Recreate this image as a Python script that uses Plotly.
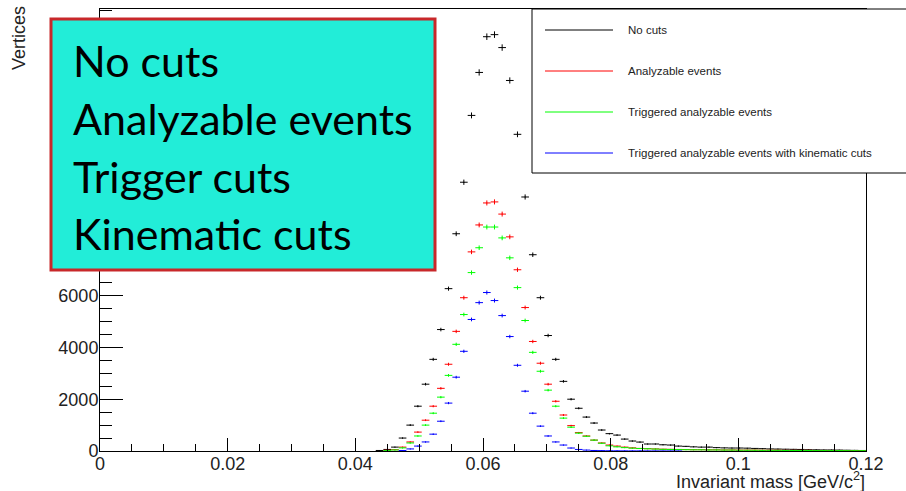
import numpy as np
import plotly.graph_objects as go

# Histogram binning: 100 bins from 0 to 0.12 GeV/c^2
bin_low = 0.0
bin_width = 0.0012
n_bins = 100

series_names = ["No cuts", "Analyzable events", "Triggered analyzable events",
                "Triggered analyzable events with kinematic cuts"]
series_colors = ["#000000", "#FF0000", "#00FF00", "#0000FF"]

no_cuts = [0] * 36 + [
    20, 60, 150, 500, 1000, 1730, 2580, 3540, 4690, 6270,
    8390, 10380, 12960, 14620, 16000, 16080, 15580, 14310, 12230, 9810,
    7580, 5920, 4460, 3540, 2690, 2000, 1650, 1310, 1080, 810,
    670, 615, 460, 385, 345, 270, 270, 240, 230, 190,
    180, 160, 150, 150, 130, 120, 115, 115, 110, 100,
    90, 80, 75, 70, 65, 60, 50, 45, 40, 40,
    35, 30, 25, 20]

analyzable = [0] * 37 + [
    30, 50, 150, 350, 730, 1190, 1730, 2420, 3350, 4620,
    5920, 7690, 8730, 9580, 9620, 9150, 8270, 7000, 5540, 4230,
    3390, 2580, 1920, 1390, 980, 710, 580, 420, 310, 230,
    190, 150, 120, 100, 90, 80, 70, 65, 60, 55,
    50, 50, 45, 45, 40, 40, 35, 35, 35, 30,
    30, 30, 25, 25, 25, 25, 20, 20, 20, 20,
    15, 15, 15]

triggered = [0] * 37 + [
    15, 40, 120, 310, 580, 1000, 1460, 2080, 2920, 4120,
    5270, 6890, 7850, 8650, 8650, 8230, 7460, 6310, 5040, 3810,
    3080, 2350, 1730, 1270, 920, 690, 570, 420, 300, 200,
    160, 130, 110, 95, 85, 75, 65, 60, 55, 50,
    45, 45, 40, 40, 35, 35, 30, 30, 30, 25,
    25, 25, 20, 20, 20, 20, 15, 15, 15, 15,
    12, 12, 12]

kinematic = [0] * 39 + [
    20, 80, 190, 350, 650, 1150, 1850, 2850, 3850, 5080,
    5730, 6120, 5810, 5230, 4420, 3310, 2310, 1460, 960, 580,
    350, 230, 115, 60, 35, 20, 15, 10, 8, 6,
    5, 5, 4, 4, 3, 3, 2] + [0] * 24

all_series = [no_cuts, analyzable, triggered, kinematic]

box_lines = ["No cuts", "Analyzable events", "Trigger cuts", "Kinematic cuts"]

x_ticks = [0, 0.02, 0.04, 0.06, 0.08, 0.1, 0.12]
x_tick_text = ["0", "0.02", "0.04", "0.06", "0.08", "0.1", "0.12"]
y_ticks = [0, 2000, 4000, 6000, 8000, 10000, 12000, 14000, 16000]

# ------------------------------------------------------------------
edges = bin_low + bin_width * np.arange(n_bins + 1)
centers = 0.5 * (edges[:-1] + edges[1:])

fig = go.Figure()
for name, color, vals in zip(series_names, series_colors, all_series):
    v = np.array(vals, dtype=float)
    mask = v > 0
    fig.add_trace(go.Scatter(
        x=centers[mask], y=v[mask], mode="markers", name=name,
        marker=dict(size=1, color=color),
        error_x=dict(type="constant", value=bin_width / 2, width=0,
                     thickness=1, color=color),
        error_y=dict(type="data", array=np.sqrt(v[mask]), width=0,
                     thickness=1, color=color),
        showlegend=False,
    ))

L, R, T, B = 100, 40, 9, 40
W, H = 906, 491
PW, PH = W - L - R, H - T - B


def px_x(p):
    return (p - L) / PW


def px_y(p):
    return (H - B - p) / PH


axis_font = dict(family="Liberation Sans, Arial, sans-serif", size=18, color="#222222")

fig.update_layout(
    width=W, height=H,
    margin=dict(l=L, r=R, t=T, b=B, pad=0),
    paper_bgcolor="white", plot_bgcolor="white",
    font=axis_font,
    xaxis=dict(range=[0, 0.12], tickvals=x_ticks, ticktext=x_tick_text,
               ticks="inside", ticklen=13, tickwidth=1, tickcolor="black",
               showline=True, linecolor="black", linewidth=1, mirror=True,
               showgrid=False, zeroline=False, tickfont=axis_font,
               ticklabelstandoff=-4,
               minor=dict(dtick=0.005, ticks="inside", ticklen=7,
                          tickcolor="black", showgrid=False)),
    yaxis=dict(range=[0, 17070], tickvals=y_ticks,
               ticks="inside", ticklen=23, tickwidth=1, tickcolor="black",
               showline=True, linecolor="black", linewidth=1, mirror=True,
               showgrid=False, zeroline=False, tickfont=axis_font,
               ticklabelstandoff=-3,
               minor=dict(dtick=500, ticks="inside", ticklen=12,
                          tickcolor="black", showgrid=False)),
)

shapes = []
annotations = []

# Axis titles
annotations.append(dict(text="Invariant mass [GeV/c<sup>2</sup>]", xref="paper", yref="paper",
                        x=px_x(867), y=px_y(480), xanchor="right", yanchor="middle",
                        showarrow=False, font=axis_font))
annotations.append(dict(text="Vertices", xref="paper", yref="paper",
                        x=px_x(19), y=px_y(4), xanchor="center", yanchor="top",
                        textangle=-90, showarrow=False, font=axis_font))

# Legend box
shapes.append(dict(type="rect", xref="paper", yref="paper",
                   x0=px_x(532), x1=px_x(915), y0=px_y(173), y1=px_y(9),
                   line=dict(color="black", width=1), fillcolor="white", layer="above"))
legend_y = [30, 71, 112, 153]
for name, color, ly in zip(series_names, series_colors, legend_y):
    shapes.append(dict(type="line", xref="paper", yref="paper",
                       x0=px_x(545), x1=px_x(613), y0=px_y(ly), y1=px_y(ly),
                       line=dict(color=color, width=1), layer="above"))
    annotations.append(dict(text=name, xref="paper", yref="paper",
                            x=px_x(626), y=px_y(ly), xanchor="left", yanchor="middle",
                            showarrow=False,
                            font=dict(family="Liberation Sans, Arial, sans-serif",
                                      size=11.5, color="#222222")))

# Overlay text box
shapes.append(dict(type="rect", xref="paper", yref="paper",
                   x0=px_x(51), x1=px_x(435), y0=px_y(270), y1=px_y(19),
                   line=dict(color="#C8282A", width=3), fillcolor="#22EDD8", layer="above"))
box_y = [60, 118, 176, 233]
for txt, by in zip(box_lines, box_y):
    annotations.append(dict(text=txt, xref="paper", yref="paper",
                            x=px_x(71), y=px_y(by), xanchor="left", yanchor="middle",
                            showarrow=False,
                            font=dict(family="Lato, sans-serif", size=43, color="black")))

fig.update_layout(shapes=shapes, annotations=annotations)
fig.write_html("out.html",
               config={"displayModeBar": False},
               post_script="document.body.style.margin='0px';document.body.style.padding='0px';")
